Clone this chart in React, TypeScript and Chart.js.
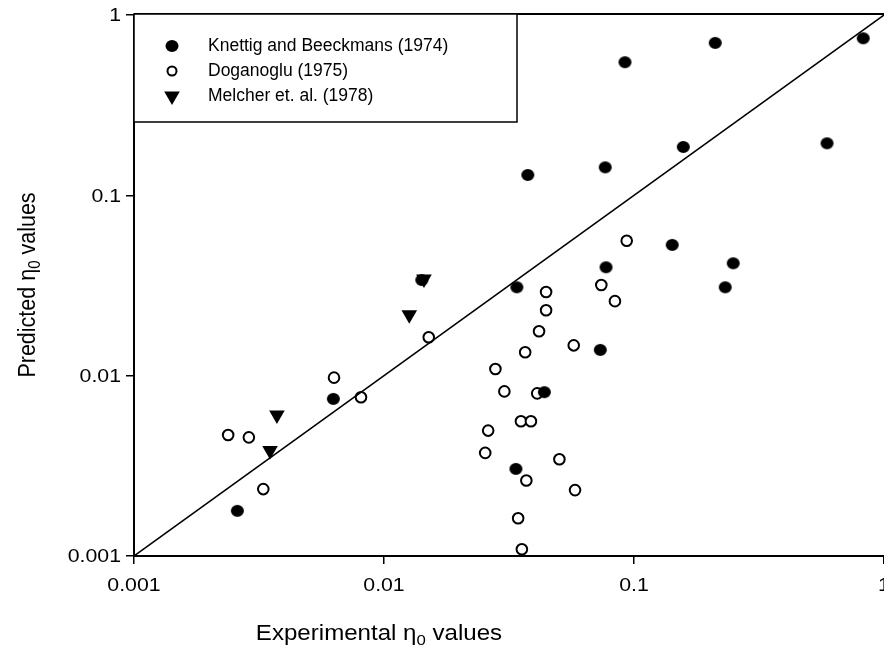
import React, { useEffect, useRef } from "react";
import { Chart, registerables } from "chart.js";

Chart.register(...registerables);

// Knettig and Beeckmans (1974) - filled circles
const knettigX = [0.00259, 0.00627, 0.01416, 0.0340, 0.0438, 0.0337, 0.0773, 0.0733, 0.0920, 0.2113, 0.826, 0.0376, 0.0767, 0.1574, 0.5916, 0.1422, 0.2494, 0.2317];
const knettigY = [0.00178, 0.00743, 0.0339, 0.0309, 0.0081, 0.00304, 0.0399, 0.0139, 0.547, 0.700, 0.743, 0.1297, 0.143, 0.1854, 0.1943, 0.0531, 0.0420, 0.0309];

// Doganoglu (1975) - open circles
const doganogluX = [0.00238, 0.00288, 0.00329, 0.00631, 0.00809, 0.0151, 0.0445, 0.0445, 0.0417, 0.0367, 0.0279, 0.0303, 0.0410, 0.0353, 0.0387, 0.0261, 0.0254, 0.0503, 0.0371, 0.0581, 0.0344, 0.0356, 0.0740, 0.0839, 0.0574, 0.0935];
const doganogluY = [0.00469, 0.00455, 0.00235, 0.00975, 0.00759, 0.01633, 0.0291, 0.02305, 0.01762, 0.01348, 0.01089, 0.00818, 0.00798, 0.00559, 0.00559, 0.00496, 0.00373, 0.00344, 0.00262, 0.00232, 0.00162, 0.00109, 0.0318, 0.0259, 0.01473, 0.0560];

// Melcher et. al. (1978) - filled down triangles
const melcherX = [0.0035, 0.00373, 0.01262, 0.01445];
const melcherY = [0.00385, 0.00605, 0.0218, 0.0344];

// 1:1 line
const lineX = [0.001, 1];
const lineY = [0.001, 1];

const tickValues = [0.001, 0.01, 0.1, 1];
const tickLabels = ["0.001", "0.01", "0.1", "1"];

const seriesNames = ["Knettig and Beeckmans (1974)", "Doganoglu (1975)", "Melcher et. al. (1978)"];
const xTitle = ["Experimental ", "\u03b7", "0", " values"];
const yTitle = ["Predicted ", "\u03b7", "0", " values"];

const FONT = "'Liberation Sans', Arial, sans-serif";
const STRETCH = 1.12;

const toPts = (xs: number[], ys: number[]) => xs.map((x, i) => ({ x, y: ys[i] }));

function makeEllipse(rx: number, ry: number): HTMLCanvasElement {
  const c = document.createElement("canvas");
  c.width = Math.ceil(rx * 2) + 2;
  c.height = Math.ceil(ry * 2) + 2;
  const g = c.getContext("2d")!;
  g.fillStyle = "#000";
  g.beginPath();
  g.ellipse(c.width / 2, c.height / 2, rx, ry, 0, 0, Math.PI * 2);
  g.fill();
  return c;
}

function drawSubTitle(ctx: CanvasRenderingContext2D, parts: string[], size: number) {
  const main = `${size}px ${FONT}`;
  const sub = `${Math.round(size * 0.68)}px ${FONT}`;
  ctx.font = main;
  const w0 = ctx.measureText(parts[0] + parts[1]).width;
  ctx.font = sub;
  const w1 = ctx.measureText(parts[2]).width;
  ctx.font = main;
  const w2 = ctx.measureText(parts[3]).width;
  const total = w0 + w1 + w2;
  let x = -total / 2;
  ctx.textAlign = "left";
  ctx.textBaseline = "alphabetic";
  ctx.font = main;
  ctx.fillText(parts[0] + parts[1], x, 0);
  x += w0;
  ctx.font = sub;
  ctx.fillText(parts[2], x, size * 0.22);
  x += w1;
  ctx.font = main;
  ctx.fillText(parts[3], x, 0);
}

function stretchedText(ctx: CanvasRenderingContext2D, text: string, x: number, y: number, align: CanvasTextAlign) {
  ctx.save();
  ctx.translate(x, y);
  ctx.scale(STRETCH, 1);
  ctx.textAlign = align;
  ctx.fillText(text, 0, 0);
  ctx.restore();
}

const decorPlugin = {
  id: "decor",
  afterDraw(chart: any) {
    const ctx: CanvasRenderingContext2D = chart.ctx;
    const area = chart.chartArea;
    ctx.save();
    ctx.fillStyle = "#000";
    ctx.strokeStyle = "#000";
    // top frame line
    ctx.lineWidth = 2;
    ctx.beginPath();
    ctx.moveTo(area.left, area.top - 1);
    ctx.lineTo(area.right, area.top - 1);
    ctx.stroke();

    // tick labels
    ctx.font = `19px ${FONT}`;
    ctx.textBaseline = "middle";
    tickValues.forEach((v, i) => {
      const px = chart.scales.x.getPixelForValue(v);
      stretchedText(ctx, tickLabels[i], px, 586, "center");
      const py = chart.scales.y.getPixelForValue(v);
      stretchedText(ctx, tickLabels[i], 121, py + 1, "right");
    });

    // legend box
    const bx = area.left, by = area.top - 1, bw = 383, bh = 108;
    ctx.fillStyle = "#fff";
    ctx.fillRect(bx, by, bw, bh);
    ctx.lineWidth = 1.5;
    ctx.strokeRect(bx, by, bw, bh);
    ctx.fillStyle = "#000";
    const mx = 172;
    const rows = [46, 71, 96];
    // filled circle
    ctx.beginPath();
    ctx.ellipse(mx, rows[0], 6.5, 6, 0, 0, Math.PI * 2);
    ctx.fill();
    // open circle
    ctx.lineWidth = 2;
    ctx.beginPath();
    ctx.ellipse(mx, rows[1], 4.5, 4.5, 0, 0, Math.PI * 2);
    ctx.stroke();
    // triangle
    const r = 9;
    ctx.beginPath();
    ctx.moveTo(mx, rows[2] + r);
    ctx.lineTo(mx - r * Math.sin(Math.PI / 3), rows[2] - r / 2);
    ctx.lineTo(mx + r * Math.sin(Math.PI / 3), rows[2] - r / 2);
    ctx.closePath();
    ctx.fill();
    ctx.font = `17.5px ${FONT}`;
    ctx.textAlign = "left";
    ctx.textBaseline = "middle";
    seriesNames.forEach((n, i) => ctx.fillText(n, 208, rows[i]));

    // axis titles
    ctx.save();
    ctx.translate(379, 640);
    ctx.scale(STRETCH, 1);
    drawSubTitle(ctx, xTitle, 21.5);
    ctx.restore();
    ctx.save();
    ctx.translate(35, 285);
    ctx.rotate(-Math.PI / 2);
    ctx.scale(1, STRETCH);
    drawSubTitle(ctx, yTitle, 21.5);
    ctx.restore();
    ctx.restore();
  },
};

const axisCommon = (isX: boolean) => ({
  type: "logarithmic" as const,
  min: 0.001,
  max: 1,
  afterBuildTicks: (scale: any) => {
    scale.ticks = tickValues.map((v) => ({ value: v }));
  },
  afterFit: (scale: any) => {
    if (isX) {
      scale.height = 99;
    } else {
      scale.width = 134;
    }
    scale.paddingLeft = 0;
    scale.paddingRight = 0;
    scale.paddingTop = 0;
    scale.paddingBottom = 0;
  },
  grid: {
    display: true,
    drawOnChartArea: false,
    drawTicks: true,
    tickLength: 8,
    color: "#000",
    lineWidth: 1.5,
  },
  border: { display: true, color: "#000", width: 2 },
  ticks: {
    display: false,
    autoSkip: false,
    maxRotation: 0,
    minRotation: 0,
  },
});

export default function App() {
  const ref = useRef<HTMLCanvasElement>(null);
  useEffect(() => {
    if (!ref.current) return;
    const filledDot = makeEllipse(6.5, 6);
    const chart = new Chart(ref.current, {
      type: "scatter",
      data: {
        datasets: [
          {
            label: "1:1",
            type: "line",
            data: toPts(lineX, lineY),
            borderColor: "#000",
            borderWidth: 1.5,
            pointRadius: 0,
            fill: false,
          } as any,
          {
            label: seriesNames[0],
            data: toPts(knettigX, knettigY),
            pointStyle: filledDot,
            pointRadius: 6,
            backgroundColor: "#000",
            borderColor: "#000",
            borderWidth: 0,
          },
          {
            label: seriesNames[1],
            data: toPts(doganogluX, doganogluY),
            pointStyle: "circle",
            pointRadius: 5.3,
            backgroundColor: "#fff",
            borderColor: "#000",
            borderWidth: 2,
          },
          {
            label: seriesNames[2],
            data: toPts(melcherX, melcherY),
            pointStyle: "triangle",
            pointRotation: 180,
            pointRadius: 9,
            backgroundColor: "#000",
            borderColor: "#000",
            borderWidth: 0,
          },
        ],
      },
      options: {
        responsive: false,
        animation: false,
        devicePixelRatio: 1,
        layout: { autoPadding: false, padding: { top: 15, right: 0, left: 0, bottom: 0 } },
        plugins: { legend: { display: false }, tooltip: { enabled: false } },
        scales: {
          x: { ...axisCommon(true), position: "bottom" },
          y: { ...axisCommon(false), position: "left" },
        },
      } as any,
      plugins: [decorPlugin],
    });
    return () => chart.destroy();
  }, []);
  return (
    <div style={{ position: "absolute", left: 0, top: 0, width: 884, height: 655, background: "#fff" }}>
      <canvas ref={ref} width={884} height={655} style={{ display: "block" }} />
    </div>
  );
}
